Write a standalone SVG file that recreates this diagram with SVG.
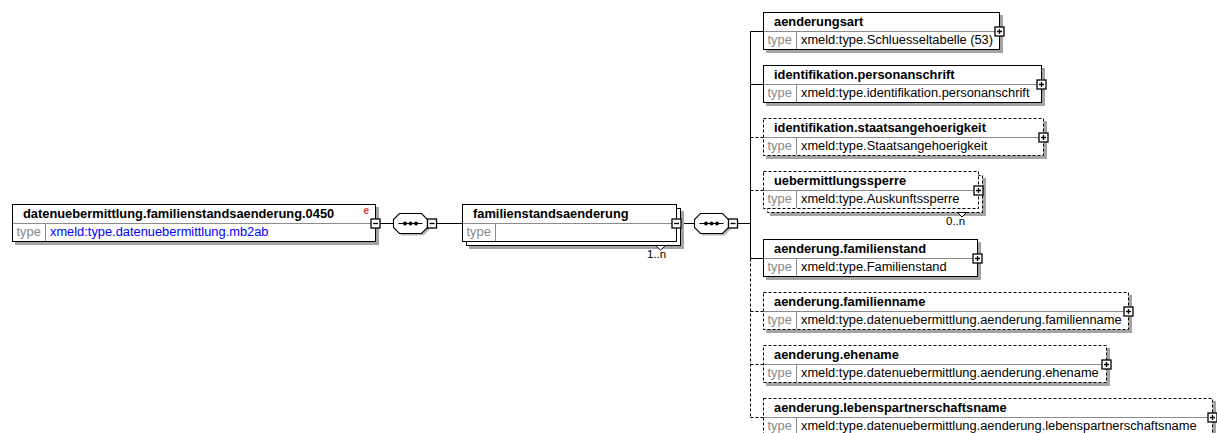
<svg xmlns="http://www.w3.org/2000/svg" xmlns:xlink="http://www.w3.org/1999/xlink" width="1217" height="433" viewBox="0 0 1217 433">
<style>
.sh{fill:#a4a4a4}
.bx{fill:#fff;stroke:#000;stroke-width:1}
.op{stroke-dasharray:3 2}
.dv{stroke:#8c8c8c;stroke-width:1;fill:none}
.nm{font-family:"Liberation Sans",Arial,sans-serif;font-size:12.85px;font-weight:bold;fill:#000}
.tl{font-family:"Liberation Sans",Arial,sans-serif;font-size:12.85px;fill:#888}
.vl{font-family:"Liberation Sans",Arial,sans-serif;font-size:12.85px;fill:#000}
.lk{fill:#0000ff}
.oc{font-family:"Liberation Sans",Arial,sans-serif;font-size:11.5px;fill:#000}
.pm{fill:#fff;stroke:#000;stroke-width:1.3}
.sg{stroke:#000;stroke-width:1.3;fill:none}
.cn{stroke:#000;stroke-width:1;fill:none}
.dc{stroke-dasharray:3 2}
.nt{fill:#fff;stroke:#000;stroke-width:1}
</style>
<defs>
<g id="plus"><rect class="pm" x="-4.5" y="-4.5" width="9" height="9"/><path class="sg" d="M-2.5,0H2.5M0,-2.5V2.5"/></g>
<g id="minus"><rect class="pm" x="-4.5" y="-4.5" width="9" height="9"/><path class="sg" d="M-2.5,0H2.5"/></g>
<g id="seq">
<polygon points="8,-8 30,-8 36,-2 36,6 30,12 8,12 2,6 2,-2" fill="#b8b8b8"/>
<polygon class="pm" style="stroke-width:1.1" points="6,-10 28,-10 34,-4 34,4 28,10 6,10 0,4 0,-4"/>
<path class="sg" style="stroke-width:1" d="M5,0H29"/>
<circle cx="11.5" cy="0" r="1.9" fill="#000"/>
<circle cx="17" cy="0" r="1.9" fill="#000"/>
<circle cx="22.5" cy="0" r="1.9" fill="#000"/>
<use xlink:href="#minus" x="38.5" y="0"/>
</g>
</defs>

<g id="connectors">
<path class="cn" d="M380,223.5H393.5"/>
<path class="cn" d="M436.5,223.5H462.5"/>
<path class="cn" d="M681,223.5H694.5"/>
<path class="cn" d="M737.5,223.5H750.5"/>
<path class="cn" d="M750.5,31.5V258.5"/>
<path class="cn dc" d="M750.5,258.5V417.5"/>
<path class="cn" d="M750.5,31.5H763.5"/>
<path class="cn" d="M750.5,84.5H763.5"/>
<path class="cn dc" d="M750.5,137.5H763.5"/>
<path class="cn dc" d="M750.5,190.5H763.5"/>
<path class="cn" d="M750.5,258.5H763.5"/>
<path class="cn dc" d="M750.5,311.5H763.5"/>
<path class="cn dc" d="M750.5,364.5H763.5"/>
<path class="cn dc" d="M750.5,417.5H763.5"/>
</g>

<g id="seq1"><use xlink:href="#seq" x="393.5" y="223.5"/></g>
<g id="seq2"><use xlink:href="#seq" x="694.5" y="223.5"/></g>

<g id="root">
<rect class="sh" x="15" y="207" width="364" height="38"/>
<rect class="bx" x="12.5" y="204.5" width="363" height="37"/>
<path class="dv" d="M13,223.5H375M45.5,224V241"/>
<text class="nm" x="23" y="218">datenuebermittlung.familienstandsaenderung.0450</text>
<text class="tl" x="16.5" y="236">type</text>
<text class="vl lk" x="50" y="236">xmeld:type.datenuebermittlung.mb2ab</text>
<text x="363.5" y="214" fill="#e8303a" font-family="Liberation Sans, Arial, sans-serif" font-size="10" font-weight="bold">e</text>
<use xlink:href="#minus" x="375.5" y="223.5"/>
</g>

<g id="familienstandsaenderung">
<rect class="sh" x="469" y="211" width="215" height="38"/>
<rect class="bx" x="466.5" y="208.5" width="214" height="37"/>
<rect class="bx" x="462.5" y="204.5" width="214" height="37"/>
<path class="dv" d="M463,223.5H676M495.5,224V241"/>
<text class="nm" x="473" y="218">familienstandsaenderung</text>
<text class="tl" x="466.5" y="236">type</text>
<polygon class="nt" points="655.5,245.5 660.5,250 665.5,245.5"/>
<text class="oc" x="647" y="258">1..n</text>
<use xlink:href="#minus" x="676.5" y="223.5"/>
</g>

<g id="aenderungsart">
<rect class="sh" x="766" y="15" width="237" height="38"/>
<rect class="bx" x="763.5" y="12.5" width="236" height="37"/>
<path class="dv" d="M764,31.5H999M796.5,32V49"/>
<text class="nm" x="774" y="26">aenderungsart</text>
<text class="tl" x="767.5" y="44">type</text>
<text class="vl" x="801" y="44">xmeld:type.Schluesseltabelle (53)</text>
<use xlink:href="#plus" x="999.5" y="31.5"/>
</g>

<g id="identifikation.personanschrift">
<rect class="sh" x="766" y="68" width="279" height="38"/>
<rect class="bx" x="763.5" y="65.5" width="278" height="37"/>
<path class="dv" d="M764,84.5H1041M796.5,85V102"/>
<text class="nm" x="774" y="79">identifikation.personanschrift</text>
<text class="tl" x="767.5" y="97">type</text>
<text class="vl" x="801" y="97">xmeld:type.identifikation.personanschrift</text>
<use xlink:href="#plus" x="1041.5" y="84.5"/>
</g>

<g id="identifikation.staatsangehoerigkeit">
<rect class="sh" x="766" y="121" width="281" height="38"/>
<rect class="bx op" x="763.5" y="118.5" width="280" height="37"/>
<path class="dv" d="M764,137.5H1043M796.5,138V155"/>
<text class="nm" x="774" y="132">identifikation.staatsangehoerigkeit</text>
<text class="tl" x="767.5" y="150">type</text>
<text class="vl" x="801" y="150">xmeld:type.Staatsangehoerigkeit</text>
<use xlink:href="#plus" x="1043.5" y="137.5"/>
</g>

<g id="uebermittlungssperre">
<rect class="sh" x="770" y="178" width="216" height="38"/>
<rect class="bx op" x="767.5" y="175.5" width="215" height="37"/>
<rect class="bx op" x="763.5" y="171.5" width="215" height="37"/>
<path class="dv" d="M764,190.5H978M796.5,191V208"/>
<text class="nm" x="774" y="185">uebermittlungssperre</text>
<text class="tl" x="767.5" y="203">type</text>
<text class="vl" x="801" y="203">xmeld:type.Auskunftssperre</text>
<polygon class="nt" points="957.5,212.5 962,217 966.5,212.5"/>
<text class="oc" x="946" y="225">0..n</text>
<use xlink:href="#plus" x="978.5" y="190.5"/>
</g>

<g id="aenderung.familienstand">
<rect class="sh" x="766" y="242" width="215" height="38"/>
<rect class="bx" x="763.5" y="239.5" width="214" height="37"/>
<path class="dv" d="M764,258.5H977M796.5,259V276"/>
<text class="nm" x="774" y="253">aenderung.familienstand</text>
<text class="tl" x="767.5" y="271">type</text>
<text class="vl" x="801" y="271">xmeld:type.Familienstand</text>
<use xlink:href="#plus" x="977.5" y="258.5"/>
</g>

<g id="aenderung.familienname">
<rect class="sh" x="766" y="295" width="366" height="38"/>
<rect class="bx op" x="763.5" y="292.5" width="365" height="37"/>
<path class="dv" d="M764,311.5H1128M796.5,312V329"/>
<text class="nm" x="774" y="306">aenderung.familienname</text>
<text class="tl" x="767.5" y="324">type</text>
<text class="vl" x="801" y="324">xmeld:type.datenuebermittlung.aenderung.familienname</text>
<use xlink:href="#plus" x="1128.5" y="311.5"/>
</g>

<g id="aenderung.ehename">
<rect class="sh" x="766" y="348" width="344" height="38"/>
<rect class="bx op" x="763.5" y="345.5" width="343" height="37"/>
<path class="dv" d="M764,364.5H1106M796.5,365V382"/>
<text class="nm" x="774" y="359">aenderung.ehename</text>
<text class="tl" x="767.5" y="377">type</text>
<text class="vl" x="801" y="377">xmeld:type.datenuebermittlung.aenderung.ehename</text>
<use xlink:href="#plus" x="1106.5" y="364.5"/>
</g>

<g id="aenderung.lebenspartnerschaftsname">
<rect class="sh" x="766" y="401" width="450" height="38"/>
<rect class="bx op" x="763.5" y="398.5" width="449" height="37"/>
<path class="dv" d="M764,417.5H1212M796.5,418V435"/>
<text class="nm" x="774" y="412">aenderung.lebenspartnerschaftsname</text>
<text class="tl" x="767.5" y="430">type</text>
<text class="vl" x="801" y="430">xmeld:type.datenuebermittlung.aenderung.lebenspartnerschaftsname</text>
<use xlink:href="#plus" x="1212.5" y="417.5"/>
</g>
</svg>
